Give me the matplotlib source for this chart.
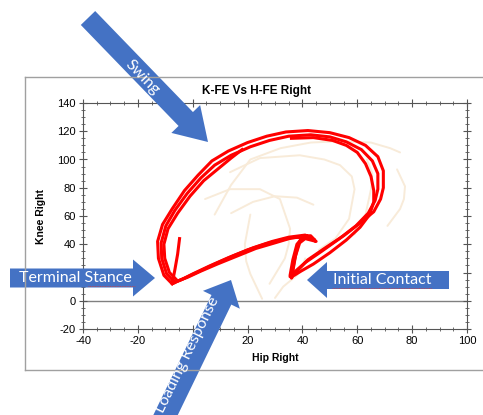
import matplotlib
matplotlib.use("Agg")

import matplotlib.pyplot as plt
from matplotlib.patches import FancyArrow
from matplotlib.ticker import MultipleLocator

plt.rcParams["axes.unicode_minus"] = False

# knee vs hip flexion, right side (degrees)
red_a_hip = [-7.5, -10.5, -12.5, -12.8, -11, -7.5, -3, 2, 7, 13, 20, 27, 34, 42, 50, 57, 63, 67.5,
             69.5, 69.5, 68.5, 66, 61, 55, 48, 42, 38.5, 36.5, 36, 37, 38.5, 40, 43, 44.5, 41, 35,
             29, 22, 15, 8, 2, -3, -6.5, -7.5, -6.5, -5.5, -4.8]
red_a_knee = [12, 18, 30, 42, 54, 65, 78, 89, 99, 106, 112, 116.5, 119.5, 120.5, 119, 115.5, 110, 102,
              92, 80, 72, 63, 55, 46, 37, 29, 22, 17.5, 16, 28, 40, 46, 46, 43, 46.5, 45,
              42, 37.5, 32, 26, 20.5, 16, 13, 12, 22, 33, 44]

red_b_hip = [-6.5, -9.5, -11.3, -11.5, -9.8, -6.5, -2, 3, 8, 14, 21, 28, 35, 43, 50, 56, 61.5, 65.5,
             67.5, 67.5, 66.5, 64, 59.5, 53.5, 47, 41, 37.5, 35.5, 35.5, 36.5, 38, 40, 42, 38, 33,
             27, 20, 13, 6, 0, -4, -6.5]
red_b_knee = [13, 19, 30, 41, 53, 64, 76, 87, 96, 103, 109, 113.5, 116.5, 117.5, 116, 112.5, 107, 99,
              90, 79, 71, 62, 53, 44, 35, 27, 21, 17, 18, 29, 40, 44.5, 44, 45, 43.5,
              40.5, 36, 30.5, 24.5, 19, 15, 13]

red_c_hip = [36, 44, 51, 56, 60, 63, 65, 66, 66, 64.5, 61, 56, 50, 44, 39.5, 37, 36.5, 37.5, 39, 41,
             45, 42, 36, 30, 23, 16, 9, 3, -2, -5.5, -8.5, -10.2, -10.5, -9, -5.5, -1, 4, 9, 14, 18]
red_c_knee = [115, 115.5, 113.5, 110, 105, 97, 88, 78, 70, 61, 52, 43, 34, 26, 21, 18, 21, 32, 41, 44,
              42, 45.5, 44.5, 41, 37, 31.5, 26, 21, 16.5, 14, 20, 30, 40, 51, 62, 74, 85, 93, 101, 107]

# faint traces of the other trials
beige_hip = [
    [8, 14, 21, 32, 43, 54, 65, 72, 75.6],
    [74.5, 77.4, 77, 75.6, 71],
    [63.5, 65.5, 65, 63, 59],
    [13.6, 24.5, 39, 48, 53.7, 58, 59, 57, 52, 46],
    [4.5, 13.6, 24.5, 31.8, 35.5, 35, 33.6, 28],
    [21, 19, 19.5, 21, 25.3],
    [14, 22, 30, 38, 44],
    [30, 33, 38, 40, 41],
]
beige_knee = [
    [61, 82, 100, 108, 112, 113, 112, 108, 105],
    [93, 81, 72, 65, 53],
    [100, 90, 79, 61, 47],
    [91, 101, 103, 100, 96, 88, 79, 58, 44, 36],
    [72, 79, 79, 72, 51, 40, 30, 12],
    [61, 40, 28, 19, 1.4],
    [62, 70, 74, 73, 68],
    [2, 10, 18, 24, 30],
]

x_ticks = [-40, -20, 0, 20, 40, 60, 80, 100]
y_ticks = [-20, 0, 20, 40, 60, 80, 100, 120, 140]

chart_title = "K-FE Vs H-FE Right"
x_title = "Hip Right"
y_title = "Knee Right"

W, H = 483, 415
fig = plt.figure(figsize=(W / 100, H / 100), dpi=100)
fig.patch.set_facecolor("white")

ax = fig.add_axes([83 / W, 1 - 329 / H, 384 / W, 226 / H])
for hx, ky in zip(beige_hip, beige_knee):
    ax.plot(hx, ky, color="#f8ebd9", lw=1.4, solid_capstyle="round", zorder=2)
ax.plot(red_a_hip, red_a_knee, color="#ff0000", lw=2.2, zorder=3)
ax.plot(red_b_hip, red_b_knee, color="#ff0000", lw=2.2, zorder=3)
ax.plot(red_c_hip, red_c_knee, color="#ff0000", lw=2.2, zorder=3)
ax.axhline(0, color="#808080", lw=1.0, zorder=1)

ax.set_xlim(x_ticks[0], x_ticks[-1])
ax.set_ylim(y_ticks[0], y_ticks[-1])
ax.set_xticks(x_ticks)
ax.set_yticks(y_ticks)
ax.xaxis.set_minor_locator(MultipleLocator(5))
ax.yaxis.set_minor_locator(MultipleLocator(5))
ax.tick_params(which="major", direction="inout", length=6, width=0.8, color="#555555",
               labelsize=8, pad=2, top=True, right=True, labeltop=False, labelright=False)
ax.tick_params(which="minor", direction="inout", length=3, width=0.6, color="#555555",
               top=True, right=True)
for lab in ax.get_xticklabels() + ax.get_yticklabels():
    lab.set_fontfamily("Liberation Sans")
for sp in ax.spines.values():
    sp.set_color("#555555")
    sp.set_linewidth(0.8)
ax.set_xlabel(x_title, fontsize=7.5, fontweight="bold", family="Liberation Sans", labelpad=5)
ax.set_ylabel(y_title, fontsize=7.5, fontweight="bold", family="Liberation Sans", labelpad=8)

# overlay in pixel coordinates for the frame and call-out arrows
ov = fig.add_axes([0, 0, 1, 1], zorder=10)
ov.set_xlim(0, W)
ov.set_ylim(H, 0)
ov.axis("off")
ov.patch.set_alpha(0)

ov.plot([25, W], [77, 77], color="#a0a0a0", lw=1.0)
ov.plot([25, W], [370, 370], color="#a0a0a0", lw=1.0)
ov.plot([25, 25], [77, 370], color="#a0a0a0", lw=1.0)

ov.text(256, 91, chart_title, ha="center", va="center", fontsize=8.5, fontweight="bold",
        family="Liberation Sans")

blue = "#4472c4"
arrows = [
    # tail x, tail y, dx, dy, width, head width, head length
    (88, 18, 120, 124, 20, 40, 32),
    (10, 278, 145, 0, 19, 37, 22),
    (449, 280, -142, 0, 18, 36, 20),
    (152, 443, 79, -163, 22, 41, 22),
]
for tx, ty, dx, dy, w, hw, hl in arrows:
    ov.add_patch(FancyArrow(tx, ty, dx, dy, width=w, head_width=hw, head_length=hl,
                            length_includes_head=True, color=blue, lw=0))

lbl = dict(color="white", family="Lato", fontsize=11.5, va="center")
ov.text(142, 77, "Swing", ha="center", rotation=-46, rotation_mode="anchor", **lbl)
ov.text(19, 278, "Terminal Stance", ha="left", **lbl)
ov.text(382, 280, "Initial Contact", ha="center", **lbl)
ov.text(188, 355, "Loading Response", ha="center", rotation=64, rotation_mode="anchor", **lbl)

# spell-check squiggles
sq = dict(color="#d04040", lw=0.6, ls=(0, (1, 1)))
ov.plot([88, 135], [286, 286], **sq)
ov.plot([332, 432], [288, 288], **sq)

fig.savefig("out.png", dpi=100)
